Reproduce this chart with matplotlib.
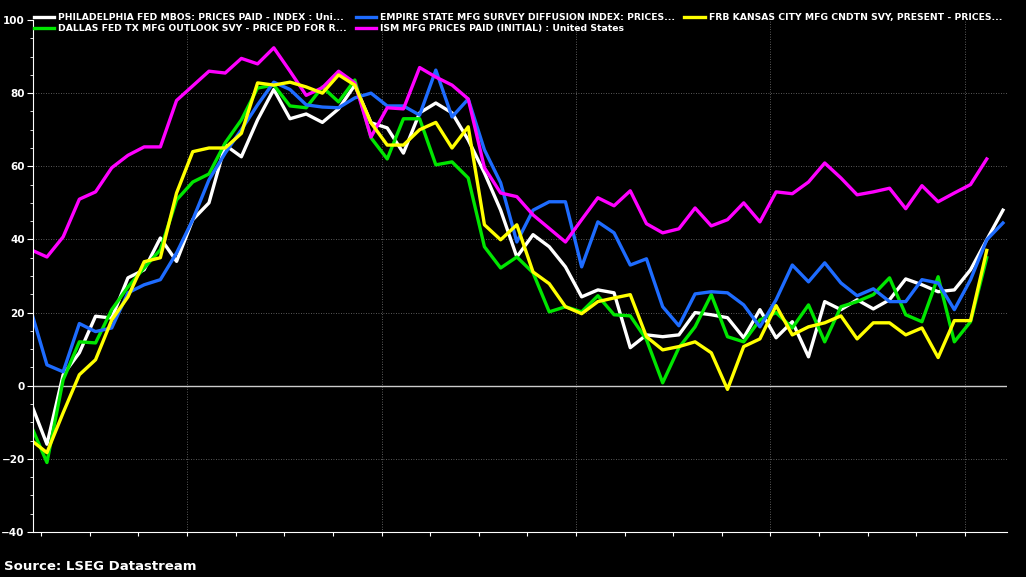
#!/usr/bin/env python3
"""Regional Fed / ISM prices-paid indices, Mar 2020 - Mar 2025 (LSEG Datastream style)."""
import numpy as np
import matplotlib
matplotlib.use("Agg")
import matplotlib.pyplot as plt

# monthly observations, first = Mar 2020
START_MONTH = 2  # months after Jan 2020
NAN = np.nan

philly = [-4.6, -16, 3, 9, 19, 18.5, 29.5, 31.7, 40.4, 34, 45.4, 50, 65.8, 62.6, 72.7, 81, 73, 74.3,
          72, 75.7, 82.2, 71.9, 70.5, 63.6, 74.6, 77.3, 74.6, 67.2, 58.2, 48, 35.2, 41.3, 38, 32.5,
          24.3, 26.2, 25.4, 10.4, 13.9, 13.4, 13.9, 20, 19.4, 18.6, 13.1, 20.8, 13.1, 17.5, 7.9, 23,
          20.8, 23.5, 21, 23.5, 29.2, 27.6, 25.7, 26.2, 31.7, 39.9, 48]
empire = [20.8, 5.7, 3.8, 17, 14.8, 15.8, 25.4, 27.6, 29, 36.3, 45.4, 56.3, 63.6, 70, 76.8, 83, 81,
          76.8, 76.2, 76, 78.7, 80, 76.5, 76.5, 74, 86.3, 73.5, 78.4, 64.5, 55.5, 39.3, 48, 50.3,
          50.3, 32.5, 44.8, 41.8, 33, 34.7, 21.6, 16.4, 25.1, 25.7, 25.4, 22.1, 16.1, 23.5, 33,
          28.4, 33.6, 28.1, 24.6, 26.5, 23, 23, 29, 28.1, 20.8, 29, 39.9, 44.5]
kansas = [-14.8, -18.3, -7.4, 3, 7.1, 18, 24.3, 33.9, 35, 52.7, 64, 65, 65, 69, 82.8, 82.2, 83, 81.7,
          80, 85, 82.2, 71.9, 65.8, 65.8, 70, 72, 65, 70.8, 44, 39.9, 44, 31.1, 27.9, 21.6, 19.7,
          23, 24, 24.9, 13.4, 9.8, 10.7, 12, 9, -1, 10.7, 12.8, 21.9, 13.9, 16.1, 17.2, 19.1, 12.8,
          17.2, 17.2, 13.9, 15.8, 7.7, 17.8, 17.8, 37, NAN]
dallas = [-10.7, -21, 1.6, 12, 11.7, 20.8, 27, 32.2, 37.2, 50.8, 55.7, 57.9, 66.4, 72.7, 81.4, 82.2,
          76.5, 76, 81.7, 77.6, 83.6, 67.8, 62, 73, 73, 60.4, 61.2, 56.8, 38, 32.2, 35.2, 30.9,
          20.2, 21.6, 20.2, 24.6, 19.4, 19.1, 12.6, 0.8, 10.4, 16.1, 24.9, 13.4, 12, 18, 20, 15.8,
          22.1, 12, 21.6, 23, 24.9, 29.5, 19.4, 17.5, 29.8, 12, 17.5, 35, NAN]
ism = [37.2, 35.2, 40.7, 51, 53, 59.6, 63, 65.3, 65.3, 78, 82, 86, 85.5, 89.5, 88, 92.4, 86, 79.4,
       81.5, 86, 82.8, 68, 76, 75.7, 87, 84.4, 82.2, 78.4, 59.6, 52.7, 51.7, 46.7, 43, 39.3, 45.4,
       51.4, 49.2, 53.3, 44.3, 41.8, 42.9, 48.6, 43.7, 45.4, 50, 44.8, 53, 52.5, 55.7, 60.9, 56.8,
       52.2, 53, 54, 48.4, 54.7, 50.3, 52.7, 55, 62, NAN]

series = [
    ("PHILADELPHIA FED MBOS: PRICES PAID - INDEX : Uni...", philly, "#ffffff"),
    ("DALLAS FED TX MFG OUTLOOK SVY - PRICE PD FOR R...", dallas, "#00e600"),
    ("EMPIRE STATE MFG SURVEY DIFFUSION INDEX: PRICES...", empire, "#1e6cff"),
    ("ISM MFG PRICES PAID (INITIAL) : United States", ism, "#ff00ff"),
    ("FRB KANSAS CITY MFG CNDTN SVY, PRESENT - PRICES...", kansas, "#ffff00"),
]
years = ["2020", "2021", "2022", "2023", "2024", "2025"]

fig = plt.figure(figsize=(10.26, 5.77), dpi=100, facecolor="black")
ax = fig.add_axes([33 / 1026, 45 / 577, 974 / 1026, 512 / 577], facecolor="black")

x = START_MONTH + 0.35 + np.arange(len(philly))
for label, vals, col in series:
    ax.plot(x, vals, color=col, lw=2.4, label=label)

x_lo, x_hi = 2.49, 62.6
ax.set_xlim(x_lo, x_hi)
ax.set_ylim(-40, 100)
ax.set_yticks(range(-40, 101, 20))
ax.set_yticks(range(-40, 101, 5), minor=True)

# quarter ticks on x, year labels centred in the visible part of each year
ax.set_xticks(np.arange(3, 63, 3))
ax.set_xticks([(max(12 * i, x_lo) + min(12 * i + 12, x_hi)) / 2 for i in range(len(years))], minor=True)
ax.set_xticklabels([])
ax.set_xticklabels(years, minor=True)
ax.tick_params(axis="x", which="major", length=3, color="white")
ax.tick_params(axis="x", which="minor", length=0, pad=6, labelsize=7)
ax.tick_params(axis="y", which="major", length=4, color="white", pad=2, labelsize=7.5)
ax.tick_params(axis="y", which="minor", length=2, color="white")
ax.tick_params(colors="white")
for t in ax.get_yticklabels():
    t.set_fontweight("bold")

for yv in range(-20, 100, 20):
    ax.axhline(yv, color="#777777", lw=0.6, ls=(0, (1, 2)), zorder=0)
for xv in range(12, 61, 12):
    ax.axvline(xv, color="#777777", lw=0.6, ls=(0, (1, 2)), zorder=0)
ax.axhline(0, color="#cccccc", lw=1, zorder=0.5)

for s in ("top", "right"):
    ax.spines[s].set_visible(False)
for s in ("left", "bottom"):
    ax.spines[s].set_color("white")

leg = ax.legend(loc="upper left", ncol=3, frameon=False, fontsize=6.7, handlelength=2.2,
                bbox_to_anchor=(-0.003, 1.02), borderaxespad=0, columnspacing=1.0,
                labelspacing=0.15, handletextpad=0.4)
for t in leg.get_texts():
    t.set_color("white")
    t.set_fontweight("bold")

fig.text(4 / 1026, 4 / 577, "Source: LSEG Datastream", color="white", fontsize=9.5,
         fontweight="bold", ha="left", va="bottom")

fig.savefig("out.png", dpi=100, facecolor="black")
